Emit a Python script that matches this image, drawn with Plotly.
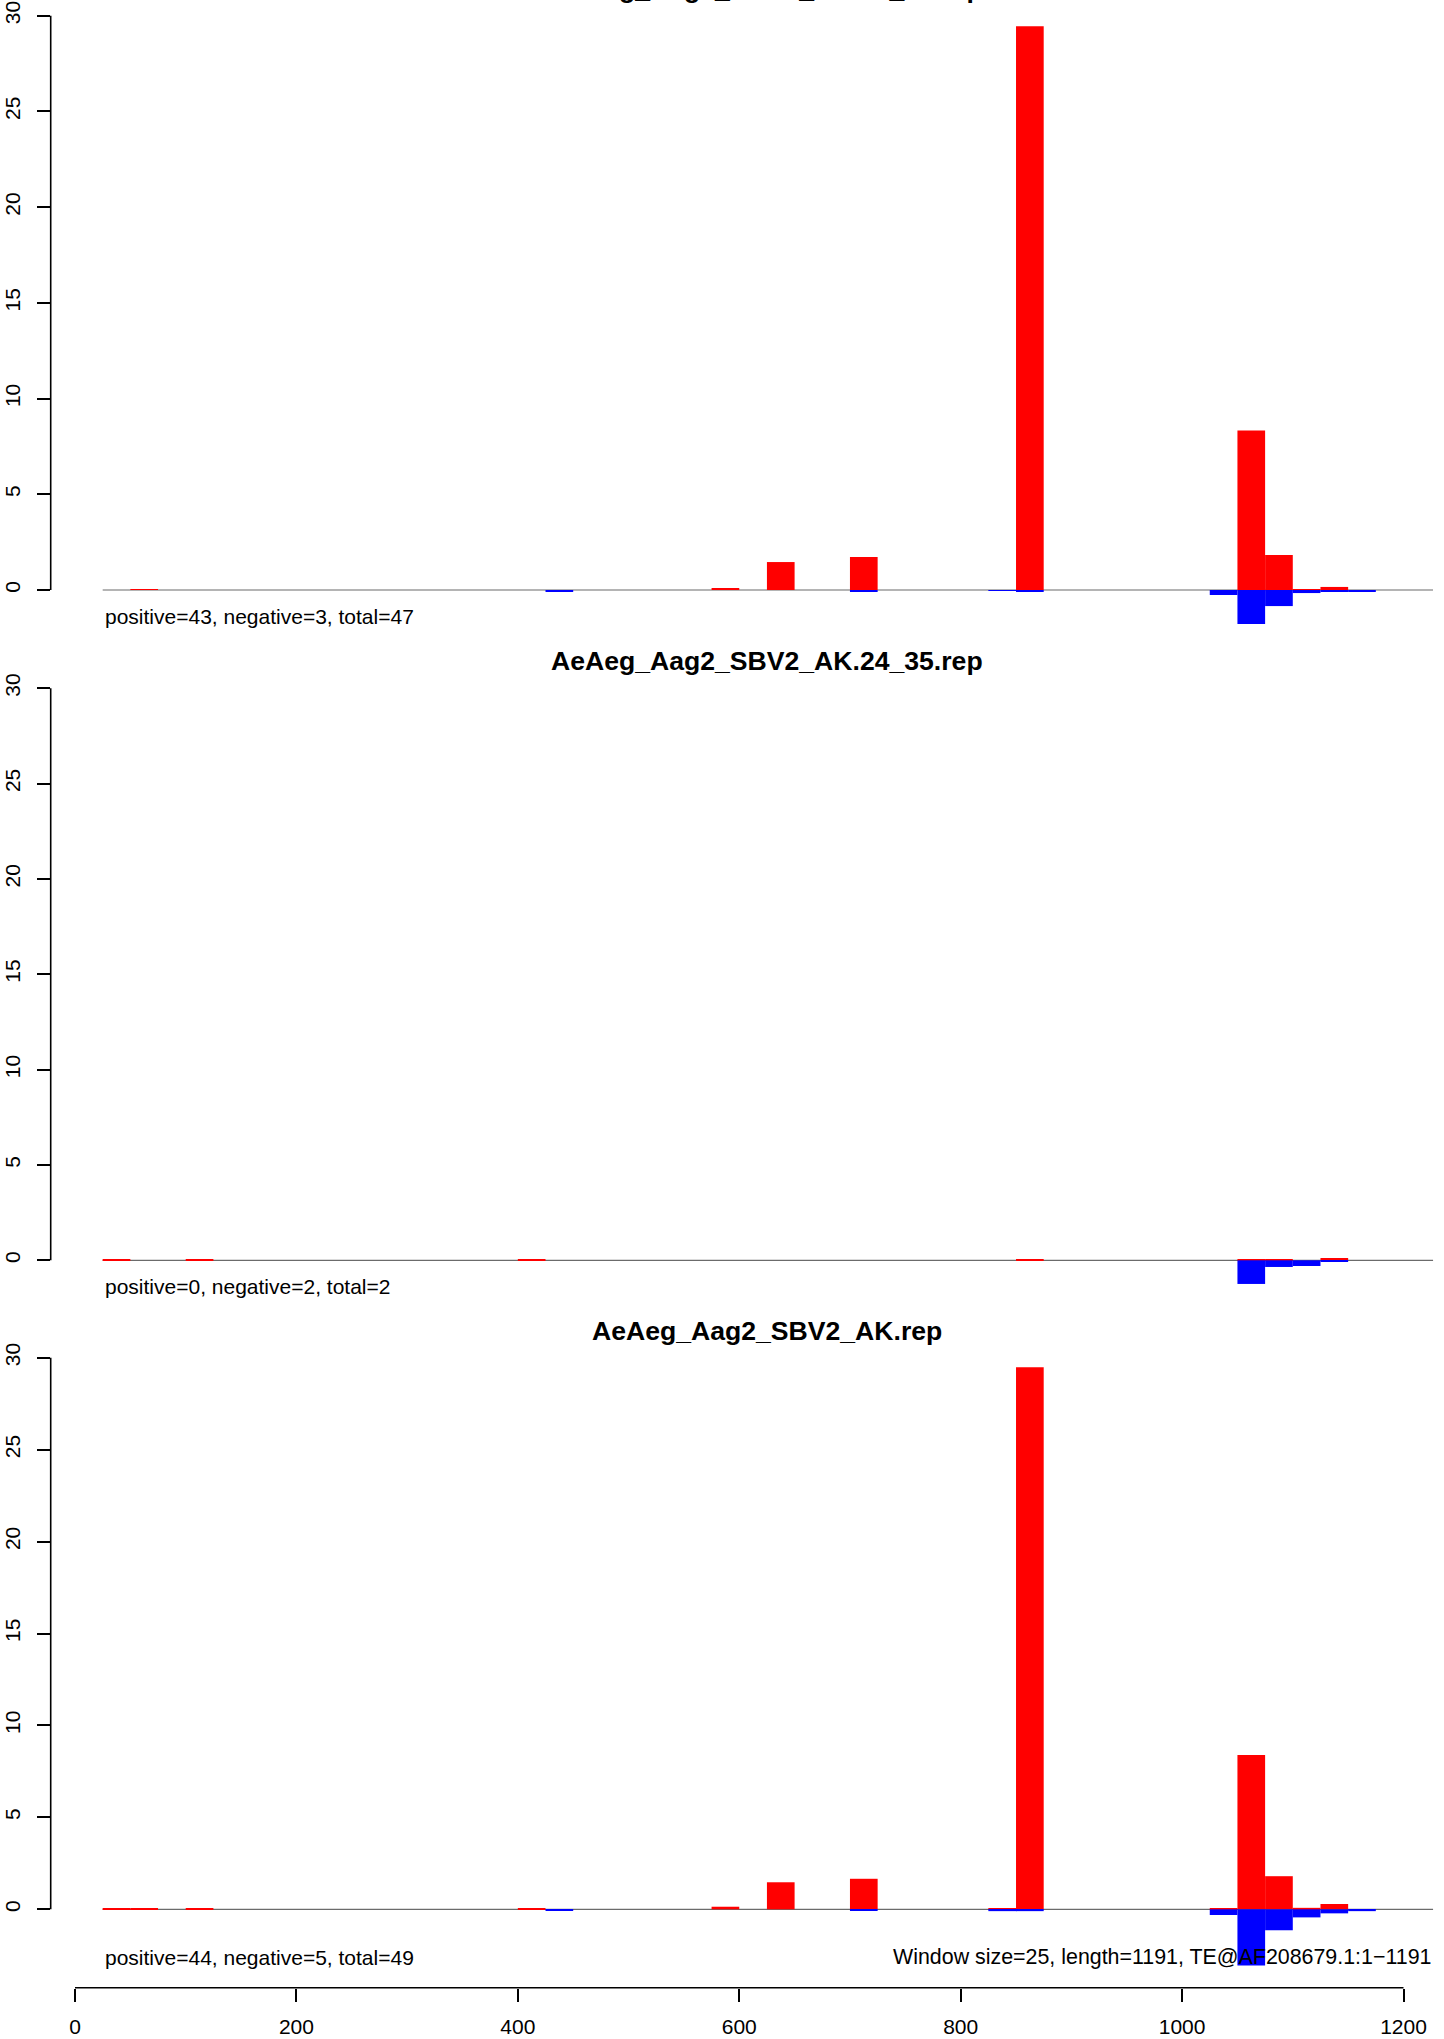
import plotly.graph_objects as go

W, H = 1444, 2039
WINDOW = 25

# ---------------- data (bin start positions and read densities) ----------------
titles = ["AeAeg_Aag2_SBV2_AK.18_23.rep",
          "AeAeg_Aag2_SBV2_AK.24_35.rep",
          "AeAeg_Aag2_SBV2_AK.rep"]
counts = ["positive=43, negative=3, total=47",
          "positive=0, negative=2, total=2",
          "positive=44, negative=5, total=49"]
info_text = "Window size=25, length=1191, TE@AF208679.1:1\u22121191"

p1_pos_bins = [50, 575, 625, 700, 850, 1050, 1075, 1100, 1125]
p1_pos_vals = [0.03, 0.10, 1.46, 1.72, 29.45, 8.33, 1.83, 0.05, 0.16]
p1_neg_bins = [425, 700, 825, 850, 1025, 1050, 1075, 1100, 1125, 1150]
p1_neg_vals = [0.06, 0.10, 0.04, 0.10, 0.26, 1.78, 0.84, 0.16, 0.10, 0.10]

p2_pos_bins = [25, 100, 400, 850, 1050, 1075, 1125]
p2_pos_vals = [0.03, 0.07, 0.07, 0.03, 0.07, 0.05, 0.12]
p2_neg_bins = [1050, 1075, 1100, 1125]
p2_neg_vals = [1.24, 0.35, 0.30, 0.09]

p3_pos_bins = [25, 50, 100, 400, 575, 625, 700, 825, 850, 1025, 1050, 1075, 1100, 1125]
p3_pos_vals = [0.03, 0.03, 0.07, 0.07, 0.14, 1.47, 1.66, 0.05, 29.48, 0.05, 8.39, 1.80, 0.08, 0.29]
p3_neg_bins = [425, 700, 825, 850, 1025, 1050, 1075, 1100, 1125, 1150]
p3_neg_vals = [0.06, 0.09, 0.10, 0.10, 0.31, 3.05, 1.14, 0.44, 0.22, 0.10]

y_ticks = [0, 5, 10, 15, 20, 25, 30]
x_ticks = [0, 200, 400, 600, 800, 1000, 1200]

panels = [
    (p1_pos_bins, p1_pos_vals, p1_neg_bins, p1_neg_vals),
    (p2_pos_bins, p2_pos_vals, p2_neg_bins, p2_neg_vals),
    (p3_pos_bins, p3_pos_vals, p3_neg_bins, p3_neg_vals),
]

# ---------------- layout geometry (pixels) ----------------
FONT = "Liberation Sans, Arial, Helvetica, sans-serif"
x_px0, x_pxk = 75.0, 1328.5 / 1200.0   # pixel of x=0, pixels per unit
axis_left_px = 50.7
x_range = [(axis_left_px - x_px0) / x_pxk, (W - x_px0) / x_pxk]

# per panel: pixel of y=30, pixel of y=0, domain top px, domain bottom px
geo = [(15.7, 590.0, 0, 650), (688.2, 1260.3, 655, 1320), (1357.7, 1909.3, 1330, 1985)]
title_base = [0.0, 672.0, 1342.0]
count_y = [616.0, 1286.0, 1957.0]


def py(px):
    return 1 - px / H


fig = go.Figure()
shapes, annotations = [], []
for i, (pb, pv, nb, nv) in enumerate(panels):
    n = "" if i == 0 else str(i + 1)
    xa, ya = "x" + n, "y" + n
    fig.add_trace(go.Bar(x=[b + WINDOW / 2 for b in pb], y=pv, width=WINDOW,
                         marker=dict(color="#FF0000", line=dict(width=0)),
                         xaxis=xa, yaxis=ya, showlegend=False, hoverinfo="skip"))
    fig.add_trace(go.Bar(x=[b + WINDOW / 2 for b in nb], y=[-v for v in nv], width=WINDOW,
                         marker=dict(color="#0000FF", line=dict(width=0)),
                         xaxis=xa, yaxis=ya, showlegend=False, hoverinfo="skip"))
    y30, y0, dt, db = geo[i]
    ppu = (y0 - y30) / 30.0
    yr = [-(db - y0) / ppu, (y0 - dt) / ppu]
    fig.update_layout(**{
        ("yaxis" + n): dict(domain=[py(db), py(dt)], range=yr, anchor=xa,
                            tickvals=y_ticks, ticks="outside", ticklen=13, tickwidth=1.6,
                            tickcolor="black", showline=False, showgrid=False, zeroline=False,
                            tickangle=-90, ticklabelstandoff=8,
                            tickfont=dict(family=FONT, size=21, color="black")),
    })
    if i < 2:
        fig.update_layout(**{("xaxis" + n): dict(domain=[axis_left_px / W, 1], range=x_range,
                                                   visible=False, anchor=ya)})
    # zero line
    shapes.append(dict(type="line", xref=xa, yref=ya, x0=25, x1=1226.7, y0=0, y1=0,
                       line=dict(color="#6b6b6b", width=1.2), layer="below"))
    # y axis line
    shapes.append(dict(type="line", xref="paper", yref=ya, x0=axis_left_px / W, x1=axis_left_px / W,
                       y0=0, y1=30, line=dict(color="black", width=1.6)))
    annotations.append(dict(text="<b>" + titles[i] + "</b>", xref="paper", yref="paper",
                            x=767.5 / W, y=py(title_base[i] + 6), xanchor="center", yanchor="bottom",
                            showarrow=False, font=dict(family=FONT, size=26.6, color="black")))
    annotations.append(dict(text=counts[i], xref="paper", yref="paper", x=102.5 / W,
                            y=py(count_y[i]), xanchor="left", yanchor="middle", showarrow=False,
                            font=dict(family=FONT, size=21, color="black")))

annotations.append(dict(text=info_text, xref="paper", yref="paper", x=1433 / W, y=py(count_y[2]),
                        xanchor="right", yanchor="middle", showarrow=False,
                        font=dict(family=FONT, size=21.4, color="black")))

axis_y_px = 1987.7
fig.update_layout(xaxis3=dict(domain=[axis_left_px / W, 1], range=x_range, anchor="free",
                              position=py(axis_y_px), tickvals=x_ticks, ticks="outside",
                              ticklen=13, tickwidth=1.6, tickcolor="black", showline=False,
                              showgrid=False, zeroline=False, ticklabelstandoff=7,
                              tickfont=dict(family=FONT, size=21, color="black")))
shapes.append(dict(type="line", xref="x3", yref="paper", x0=0, x1=1200,
                   y0=py(axis_y_px), y1=py(axis_y_px), line=dict(color="black", width=1.6)))

fig.update_layout(width=W, height=H, margin=dict(l=0, r=0, t=0, b=0),
                  paper_bgcolor="white", plot_bgcolor="white", barmode="overlay",
                  shapes=shapes, annotations=annotations, showlegend=False)

fig.write_html("out.html", config={"displayModeBar": False},
               post_script="document.body.style.margin='0';document.body.style.overflow='hidden';")
